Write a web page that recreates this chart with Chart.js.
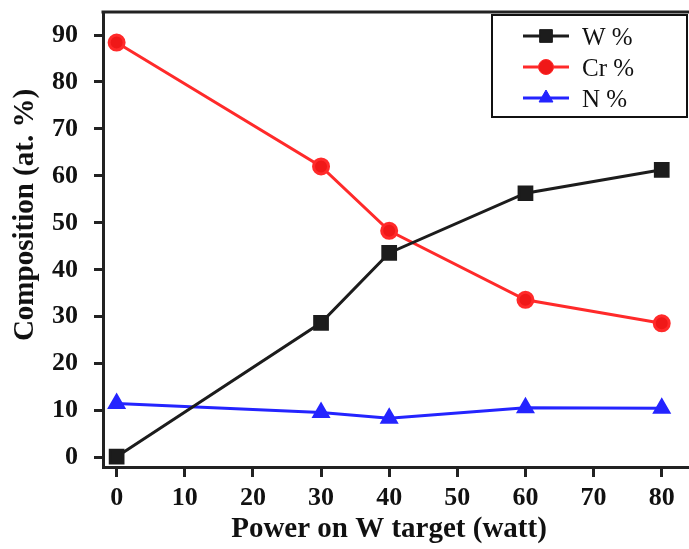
<!DOCTYPE html>
<html>
<head>
<meta charset="utf-8">
<script src="https://cdn.jsdelivr.net/npm/chart.js@4/dist/chart.umd.min.js"></script>
<style>
  html, body { margin: 0; padding: 0; background: #fff; }
  #wrap { width: 689px; height: 549px; }
</style>
</head>
<body>
<div id="wrap"><canvas id="composition"></canvas></div>
<script>
// power on the W target (watt)
const power = [0, 30, 40, 60, 80];
const wPct = [0.2, 28.7, 43.6, 56.3, 61.3];
const crPct = [88.4, 62.0, 48.3, 33.6, 28.6];
const nPct = [11.5, 9.6, 8.4, 10.6, 10.5];

const xTicks = [0, 10, 20, 30, 40, 50, 60, 70, 80];
const yTicks = [0, 10, 20, 30, 40, 50, 60, 70, 80, 90];

const xTitle = 'Power on W target (watt)';
const yTitle = 'Composition (at. %)';

const serif = "'Liberation Serif', 'Times New Roman', serif";
const axisColor = '#222';

function pts(ys) {
    return power.map((x, i) => ({ x: x, y: ys[i] }));
}

// keep the plot box where the layout puts it, no extra room for labels
function noPadding(axis) {
    axis.paddingTop = 0;
    axis.paddingBottom = 0;
    axis.paddingLeft = 0;
    axis.paddingRight = 0;
}

// top frame line, axis titles and the boxed legend in the upper right corner
const framePlugin = {
    id: 'frame',
    afterDraw(chart) {
        const ctx = chart.ctx;
        const a = chart.chartArea;
        ctx.save();
        ctx.strokeStyle = axisColor;
        ctx.lineWidth = 3;
        ctx.beginPath();
        ctx.moveTo(a.left - 1.5, a.top);
        ctx.lineTo(chart.width, a.top);
        ctx.stroke();

        // axis titles
        ctx.fillStyle = '#111';
        ctx.font = 'bold 29px ' + serif;
        ctx.textAlign = 'center';
        ctx.textBaseline = 'middle';
        ctx.fillText(xTitle, 389, 530);
        ctx.save();
        ctx.translate(26, 215);
        ctx.rotate(-Math.PI / 2);
        ctx.fillText(yTitle, 0, 0);
        ctx.restore();

        // legend box
        const bx = 492, by = 15, bw = 195, bh = 102;
        ctx.fillStyle = '#fff';
        ctx.fillRect(bx, by, bw, bh);
        ctx.lineWidth = 2;
        ctx.strokeStyle = '#111';
        ctx.strokeRect(bx, by, bw, bh);

        const rowY = [36, 67, 98];
        ctx.textAlign = 'left';
        chart.data.datasets.forEach((ds, i) => {
            const y = rowY[i];
            ctx.strokeStyle = ds.borderColor;
            ctx.lineWidth = 3;
            ctx.beginPath();
            ctx.moveTo(523, y);
            ctx.lineTo(569, y);
            ctx.stroke();
            ctx.fillStyle = ds.pointBackgroundColor;
            ctx.strokeStyle = ds.borderColor;
            ctx.lineWidth = 1;
            Chart.helpers.drawPoint(ctx, {
                pointStyle: ds.pointStyle,
                radius: ds.pointRadius,
                borderWidth: 1
            }, 546, y);
            ctx.fillStyle = '#111';
            ctx.font = '25px ' + serif;
            ctx.textBaseline = 'middle';
            ctx.fillText(ds.label, 582, y + 2);
        });
        ctx.restore();
    }
};

new Chart(document.getElementById('composition'), {
    type: 'line',
    data: {
        datasets: [
            {
                label: 'W %',
                data: pts(wPct),
                borderColor: '#1c1c1c',
                backgroundColor: '#1c1c1c',
                pointBackgroundColor: '#1c1c1c',
                pointStyle: 'rect',
                pointRadius: 9,
                borderWidth: 3
            },
            {
                label: 'Cr %',
                data: pts(crPct),
                borderColor: '#ff2a2a',
                backgroundColor: '#ff2a2a',
                pointBackgroundColor: '#f01818',
                pointStyle: 'circle',
                pointRadius: 7.5,
                borderWidth: 3
            },
            {
                label: 'N %',
                data: pts(nPct),
                borderColor: '#2424ff',
                backgroundColor: '#2424ff',
                pointBackgroundColor: '#2424ff',
                pointStyle: 'triangle',
                pointRadius: 8,
                borderWidth: 3
            }
        ]
    },
    options: {
        responsive: true,
        maintainAspectRatio: false,
        animation: false,
        layout: {
            autoPadding: false,
            padding: { top: 12, right: 0, left: 0, bottom: 0 }
        },
        plugins: {
            legend: { display: false },
            tooltip: { enabled: false }
        },
        scales: {
            x: {
                type: 'linear',
                min: -2.0,
                max: 84.0,
                afterBuildTicks(axis) {
                    axis.ticks = xTicks.map(v => ({ value: v }));
                },
                afterFit(axis) {
                    axis.height = 82;
                    noPadding(axis);
                },
                grid: {
                    display: true,
                    drawOnChartArea: false,
                    drawTicks: true,
                    tickLength: 10,
                    tickWidth: 3,
                    tickColor: axisColor
                },
                border: { display: true, width: 3, color: axisColor },
                ticks: {
                    color: '#111',
                    padding: 6,
                    maxRotation: 0,
                    autoSkip: false,
                    font: { family: serif, size: 26, weight: 'bold' }
                }
            },
            y: {
                type: 'linear',
                min: -2.0,
                max: 94.9,
                afterBuildTicks(axis) {
                    axis.ticks = yTicks.map(v => ({ value: v }));
                },
                afterFit(axis) {
                    axis.width = 103;
                    noPadding(axis);
                },
                grid: {
                    display: true,
                    drawOnChartArea: false,
                    drawTicks: true,
                    tickLength: 9,
                    tickWidth: 3,
                    tickColor: axisColor
                },
                border: { display: true, width: 3, color: axisColor },
                ticks: {
                    color: '#111',
                    padding: 16,
                    autoSkip: false,
                    font: { family: serif, size: 26, weight: 'bold' }
                }
            }
        }
    },
    plugins: [framePlugin]
});
</script>
</body>
</html>
